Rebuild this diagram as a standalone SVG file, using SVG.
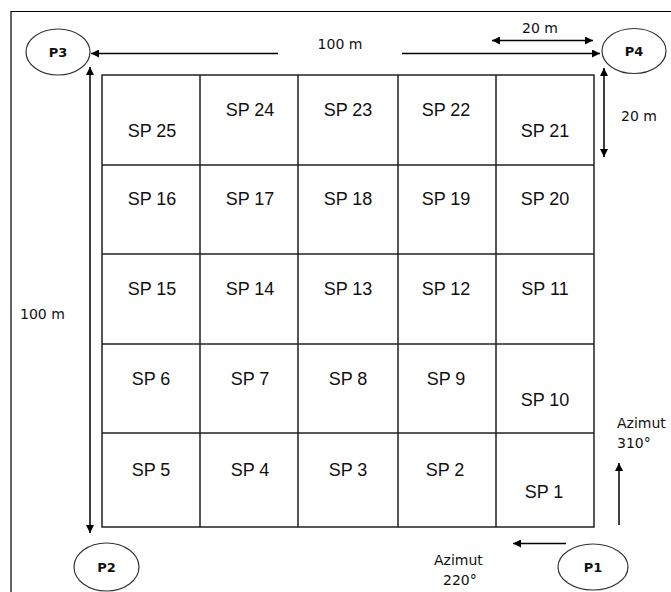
<svg xmlns="http://www.w3.org/2000/svg" width="671" height="592" viewBox="0 0 671 592">
<style>
.frame{stroke:#000;stroke-width:1.2;fill:none}
.cell{stroke:#222;stroke-width:1.5;fill:#fff}
.conn{stroke:#000;stroke-width:1.5;fill:none}
.node ellipse{fill:#fff;stroke:#333;stroke-width:1.2}
.nl{font-family:"DejaVu Sans",Verdana,sans-serif;font-size:13px;font-weight:bold;fill:#111;text-anchor:middle}
.sp{font-family:"Liberation Sans",Arial,sans-serif;font-size:18px;fill:#111;text-anchor:middle}
.lbl{font-family:"DejaVu Sans",Verdana,sans-serif;font-size:14px;fill:#111}
</style>
<defs>
<marker id="ah" viewBox="0 0 10 10" refX="10" refY="5" markerWidth="8" markerHeight="8" markerUnits="userSpaceOnUse" orient="auto-start-reverse">
<path d="M0,0 L10,5 L0,10 z" fill="#000"/>
</marker>
</defs>
<g id="frame">
<path class="frame" d="M11,592 V11.5 H671"/>
</g>
<g id="grid">
<rect class="cell" x="102" y="75" width="492" height="452"/>
<path class="cell" d="M200,75 V527 M298,75 V527 M398,75 V527 M496,75 V527 M102,165 H594 M102,254 H594 M102,344 H594 M102,433 H594" fill="none"/>
</g>
<g id="cells">
<g id="sp25"><text class="sp" x="152" y="137">SP 25</text></g>
<g id="sp24"><text class="sp" x="250" y="116">SP 24</text></g>
<g id="sp23"><text class="sp" x="348" y="116">SP 23</text></g>
<g id="sp22"><text class="sp" x="446" y="116">SP 22</text></g>
<g id="sp21"><text class="sp" x="545" y="137">SP 21</text></g>
<g id="sp16"><text class="sp" x="152" y="205">SP 16</text></g>
<g id="sp17"><text class="sp" x="250" y="205">SP 17</text></g>
<g id="sp18"><text class="sp" x="348" y="205">SP 18</text></g>
<g id="sp19"><text class="sp" x="446" y="205">SP 19</text></g>
<g id="sp20"><text class="sp" x="545" y="205">SP 20</text></g>
<g id="sp15"><text class="sp" x="152" y="295">SP 15</text></g>
<g id="sp14"><text class="sp" x="250" y="295">SP 14</text></g>
<g id="sp13"><text class="sp" x="348" y="295">SP 13</text></g>
<g id="sp12"><text class="sp" x="446" y="295">SP 12</text></g>
<g id="sp11"><text class="sp" x="545" y="295">SP 11</text></g>
<g id="sp6"><text class="sp" x="151" y="385">SP 6</text></g>
<g id="sp7"><text class="sp" x="250" y="385">SP 7</text></g>
<g id="sp8"><text class="sp" x="348" y="385">SP 8</text></g>
<g id="sp9"><text class="sp" x="446" y="385">SP 9</text></g>
<g id="sp10"><text class="sp" x="545" y="406">SP 10</text></g>
<g id="sp5"><text class="sp" x="151" y="476">SP 5</text></g>
<g id="sp4"><text class="sp" x="250" y="476">SP 4</text></g>
<g id="sp3"><text class="sp" x="348" y="476">SP 3</text></g>
<g id="sp2"><text class="sp" x="445" y="476">SP 2</text></g>
<g id="sp1"><text class="sp" x="544" y="498">SP 1</text></g>
</g>
<g id="connectors">
<line class="conn" x1="278" y1="53.5" x2="91" y2="53.5" marker-end="url(#ah)"/>
<line class="conn" x1="402" y1="53.5" x2="600" y2="53.5" marker-end="url(#ah)"/>
<line class="conn" x1="492" y1="40.5" x2="593" y2="40.5" marker-start="url(#ah)" marker-end="url(#ah)"/>
<line class="conn" x1="604" y1="68" x2="604" y2="157" marker-start="url(#ah)" marker-end="url(#ah)"/>
<line class="conn" x1="90" y1="67" x2="90" y2="533" marker-start="url(#ah)" marker-end="url(#ah)"/>
<line class="conn" x1="619" y1="525" x2="619" y2="463" marker-end="url(#ah)"/>
<line class="conn" x1="566" y1="543.5" x2="513" y2="543.5" marker-end="url(#ah)"/>
</g>
<g id="labels">
<text class="lbl" x="340" y="49" text-anchor="middle">100 m</text>
<text class="lbl" x="540" y="33" text-anchor="middle">20 m</text>
<text class="lbl" x="621" y="121">20 m</text>
<text class="lbl" x="20" y="319">100 m</text>
<text class="lbl" x="617" y="428">Azimut</text>
<text class="lbl" x="617" y="448">310°</text>
<text class="lbl" x="434" y="565">Azimut</text>
<text class="lbl" x="443" y="585">220°</text>
</g>
<g id="P3" class="node"><ellipse cx="58" cy="52" rx="32" ry="23"/><text class="nl" x="58" y="57">P3</text></g>
<g id="P4" class="node"><ellipse cx="634" cy="51" rx="32" ry="22.5"/><text class="nl" x="634" y="56">P4</text></g>
<g id="P2" class="node"><ellipse cx="106.5" cy="567" rx="32.5" ry="24"/><text class="nl" x="106.5" y="572">P2</text></g>
<g id="P1" class="node"><ellipse cx="593" cy="567" rx="35" ry="23"/><text class="nl" x="593" y="572">P1</text></g>
</svg>
